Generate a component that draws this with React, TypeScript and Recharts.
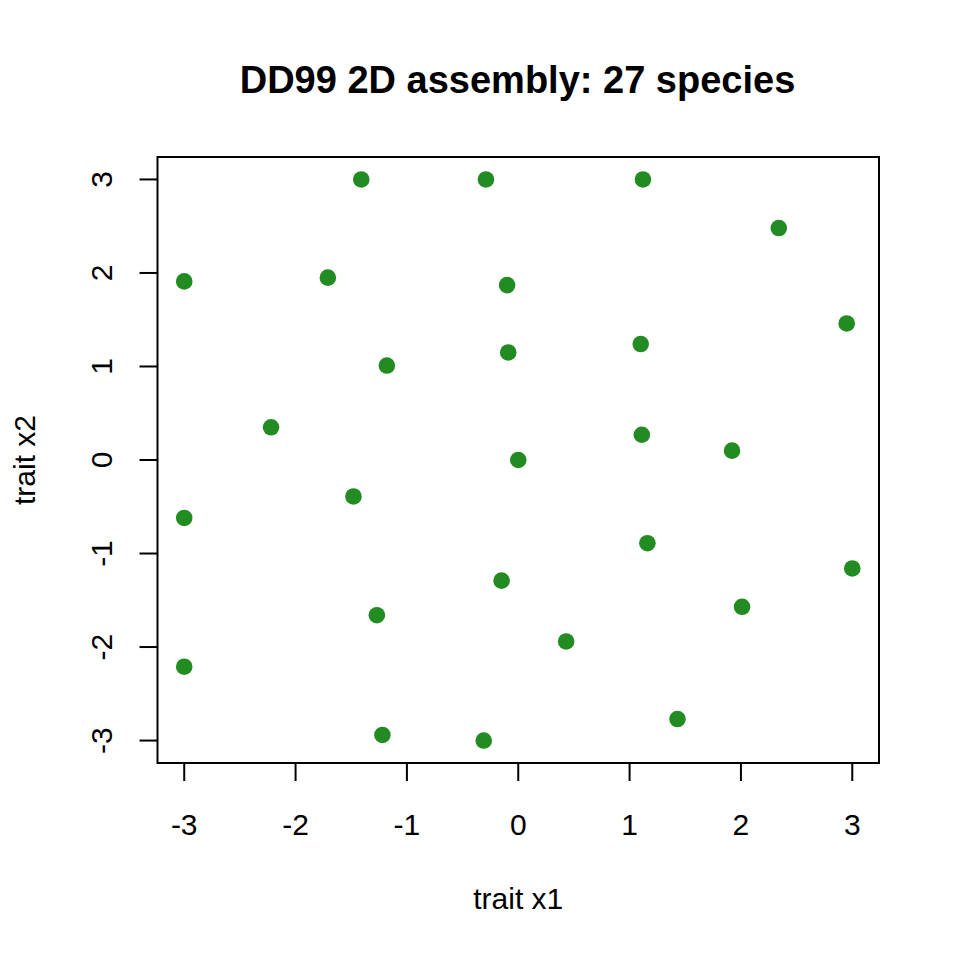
import React from 'react'
import {
  ScatterChart,
  Scatter,
  XAxis,
  YAxis,
  ReferenceArea,
} from 'recharts'

const traitX1 = [
  -1.41, -0.29, 1.12, 2.34, -3.0, -1.71, -0.1, 2.95, 1.1, -0.09, -1.18, -2.22, 1.11, 1.92,
  0.0, -1.48, -3.0, 1.16, 3.0, -0.15, 2.01, -1.27, 0.43, -3.0, 1.43, -1.22, -0.31,
]
const traitX2 = [
  3.0, 3.0, 3.0, 2.48, 1.91, 1.95, 1.87, 1.46, 1.24, 1.15, 1.01, 0.35, 0.27, 0.1,
  0.0, -0.39, -0.62, -0.89, -1.16, -1.29, -1.57, -1.66, -1.94, -2.21, -2.77, -2.94, -3.0,
]
const ticks = [-3, -2, -1, 0, 1, 2, 3]
const domain: [number, number] = [-3.24, 3.24]

const species = traitX1.map((x1, i) => ({ x1, x2: traitX2[i] }))

const font = '"Liberation Sans", Arial, Helvetica, sans-serif'
const green = '#228B22'

const XTick = (props: any) => (
  <text
    x={props.x}
    y={props.y}
    dy={54}
    textAnchor="middle"
    fontSize={30}
    fontFamily={font}
    fill="#000"
  >
    {props.payload.value}
  </text>
)

const YTick = (props: any) => {
  const tx = props.x - 27.8
  return (
    <text
      x={tx}
      y={props.y}
      transform={`rotate(-90, ${tx}, ${props.y})`}
      textAnchor="middle"
      fontSize={30}
      fontFamily={font}
      fill="#000"
    >
      {props.payload.value}
    </text>
  )
}

const XLabel = ({ viewBox }: any) => (
  <text
    x={viewBox.x + viewBox.width / 2}
    y={viewBox.y + 146}
    textAnchor="middle"
    fontSize={30}
    fontFamily={font}
    fill="#000"
  >
    trait x1
  </text>
)

const YLabel = ({ viewBox }: any) => {
  const lx = viewBox.x + 35
  const ly = viewBox.y + viewBox.height / 2
  return (
    <text
      x={lx}
      y={ly}
      transform={`rotate(-90, ${lx}, ${ly})`}
      textAnchor="middle"
      fontSize={30}
      fontFamily={font}
      fill="#000"
    >
      trait x2
    </text>
  )
}

export default function App() {
  return (
    <div style={{ position: 'absolute', left: 0, top: 0, width: 960, height: 960, background: '#fff' }}>
      <ScatterChart
        width={960}
        height={960}
        margin={{ top: 157, right: 81, bottom: 0, left: 0 }}
      >
        <XAxis
          type="number"
          dataKey="x1"
          domain={domain}
          ticks={ticks}
          allowDataOverflow
          axisLine={false}
          tickLine={{ stroke: '#000', strokeWidth: 2 }}
          tickSize={18}
          tickMargin={0}
          height={197}
          tick={XTick}
          label={XLabel}
          interval={0}
        />
        <YAxis
          type="number"
          dataKey="x2"
          domain={domain}
          ticks={ticks}
          allowDataOverflow
          axisLine={false}
          tickLine={{ stroke: '#000', strokeWidth: 2 }}
          tickSize={18}
          tickMargin={0}
          width={157.5}
          tick={YTick}
          label={YLabel}
          interval={0}
        />
        <ReferenceArea
          x1={domain[0]}
          x2={domain[1]}
          y1={domain[0]}
          y2={domain[1]}
          fill="none"
          fillOpacity={0}
          stroke="#000"
          strokeWidth={2}
          strokeOpacity={1}
        />
        <Scatter
          data={species}
          isAnimationActive={false}
          shape={(p: any) => <circle cx={p.cx} cy={p.cy} r={8.3} fill={green} />}
        />
      </ScatterChart>
      <svg
        width={960}
        height={120}
        style={{ position: 'absolute', left: 0, top: 0, pointerEvents: 'none' }}
      >
        <text
          x={517.5}
          y={92.7}
          textAnchor="middle"
          fontSize={38}
          fontWeight="bold"
          fontFamily={font}
          fill="#000"
        >
          DD99 2D assembly: 27 species
        </text>
      </svg>
    </div>
  )
}
